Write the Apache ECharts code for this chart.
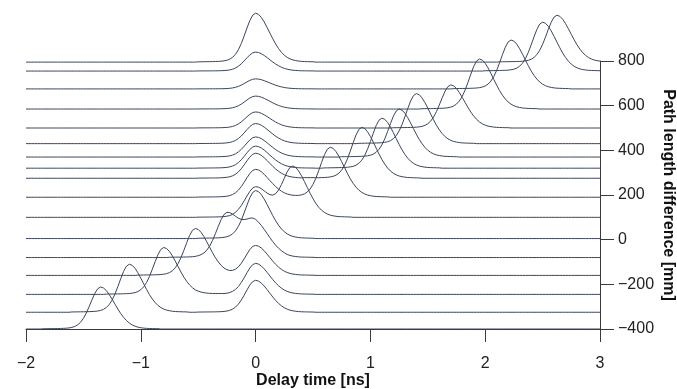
<!DOCTYPE html>
<html>
<head>
<meta charset="utf-8">
<script src="https://cdn.jsdelivr.net/npm/echarts@6/dist/echarts.min.js"></script>
<style>
  html, body { margin: 0; padding: 0; background: #fff; overflow: hidden; }
  #chart { display: block; width: 677px; height: 389px; }
</style>
</head>
<body>
<div id="chart"></div>
<script>
// baseline of each trace [mm], bottom to top
const offsets = [-400, -325, -245, -160, -80, 5, 100, 190, 275, 320, 370, 430, 500, 585, 675, 755, 795];
// position [ns] and height [mm] of the shifted pulse
const shiftPeakPos = [-1.35, -1.1, -0.8, -0.525, -0.25, 0, 0.325, 0.65, 0.925, 1.1, 1.25, 1.4, 1.7, 1.95, 2.225, 2.5, 2.625];
const shiftPeakAmp = [188, 215, 210, 210, 197, 215, 224, 224, 228, 224, 215, 224, 193, 224, 219, 219, 210];
// height [mm] of the reference pulse at 0 ns
const refPeakAmp = [0, 143, 139, 134, 143, 0, 134, 125, 112, 99, 90, 90, 72, 58, 45, 85, 219];
// normalised pulse profile, -0.5 .. +0.5 ns in 0.025 ns steps
const pulseShape = [0.006, 0.007, 0.008, 0.009, 0.010, 0.011, 0.013, 0.015, 0.019, 0.026,
  0.038, 0.060, 0.099, 0.160, 0.253, 0.379, 0.533, 0.698, 0.851, 0.960,
  1.000, 0.977, 0.914, 0.821, 0.710, 0.592, 0.476, 0.368, 0.277, 0.201,
  0.141, 0.097, 0.066, 0.044, 0.031, 0.021, 0.015, 0.012, 0.010, 0.008, 0.007];
const xTicks = [-2, -1, 0, 1, 2, 3];
const yTicks = [-400, -200, 0, 200, 400, 600, 800];

const tStep = 0.025;
const tMin = xTicks[0];
const tMax = xTicks[xTicks.length - 1];
const nPts = Math.round((tMax - tMin) / tStep) + 1;
const half = (pulseShape.length - 1) / 2;

function addPulse(ys, pos, amp) {
  const c = Math.round((pos - tMin) / tStep);
  for (let j = 0; j < pulseShape.length; j++) {
    const k = c + j - half;
    if (k >= 0 && k < nPts) ys[k] += amp * pulseShape[j];
  }
}

function buildTrace(i) {
  const ys = new Array(nPts).fill(offsets[i]);
  addPulse(ys, 0, refPeakAmp[i]);
  addPulse(ys, shiftPeakPos[i], shiftPeakAmp[i]);
  return ys.map((y, k) => [tMin + k * tStep, y]);
}

const minus = (v) => String(v).replace('-', '\u2212');
const font = 'Liberation Sans, Arial, sans-serif';
const axisColor = '#3a3a3a';
const lineColor = '#3b455a';

const chart = echarts.init(document.getElementById('chart'), null, { renderer: 'canvas' });

const series = offsets.map((_, i) => ({
  type: 'line',
  xAxisIndex: 1,
  yAxisIndex: 1,
  data: buildTrace(i),
  showSymbol: false,
  silent: true,
  lineStyle: { color: lineColor, width: 1 },
}));

chart.setOption({
  animation: false,
  backgroundColor: '#fff',
  grid: [
    { left: 26, right: 77, top: 61, bottom: 60, containLabel: false, outerBoundsMode: 'none' },
    { left: 26, right: 77, top: 5.17, bottom: 60, containLabel: false, outerBoundsMode: 'none' },
  ],
  xAxis: [
    {
      gridIndex: 0,
      type: 'value',
      min: tMin,
      max: tMax,
      interval: 1,
      name: 'Delay time [ns]',
      nameLocation: 'middle',
      nameGap: 44,
      nameMoveOverlap: false,
      nameTextStyle: { fontFamily: font, fontSize: 16, fontWeight: 'bold', color: '#111' },
      axisLine: { show: true, onZero: false, lineStyle: { color: axisColor, width: 1 } },
      axisTick: { show: true, length: 13, lineStyle: { color: axisColor } },
      axisLabel: { fontFamily: font, fontSize: 16, color: '#222', margin: 27, formatter: minus },
      splitLine: { show: false },
    },
    { gridIndex: 1, type: 'value', min: tMin, max: tMax, show: false },
  ],
  yAxis: [
    {
      gridIndex: 0,
      type: 'value',
      position: 'right',
      min: yTicks[0],
      max: yTicks[yTicks.length - 1],
      interval: 200,
      name: 'Path length difference [mm]',
      nameLocation: 'middle',
      nameRotate: -90,
      nameGap: 60,
      nameMoveOverlap: false,
      nameTextStyle: { fontFamily: font, fontSize: 16, fontWeight: 'bold', color: '#111' },
      axisLine: { show: true, onZero: false, lineStyle: { color: axisColor, width: 1 } },
      axisTick: { show: true, length: 14, lineStyle: { color: axisColor } },
      axisLabel: { fontFamily: font, fontSize: 16, color: '#222', margin: 18, formatter: minus },
      splitLine: { show: false },
    },
    { gridIndex: 1, type: 'value', min: -400, max: 1050, show: false },
  ],
  series: series,
});
</script>
</body>
</html>
